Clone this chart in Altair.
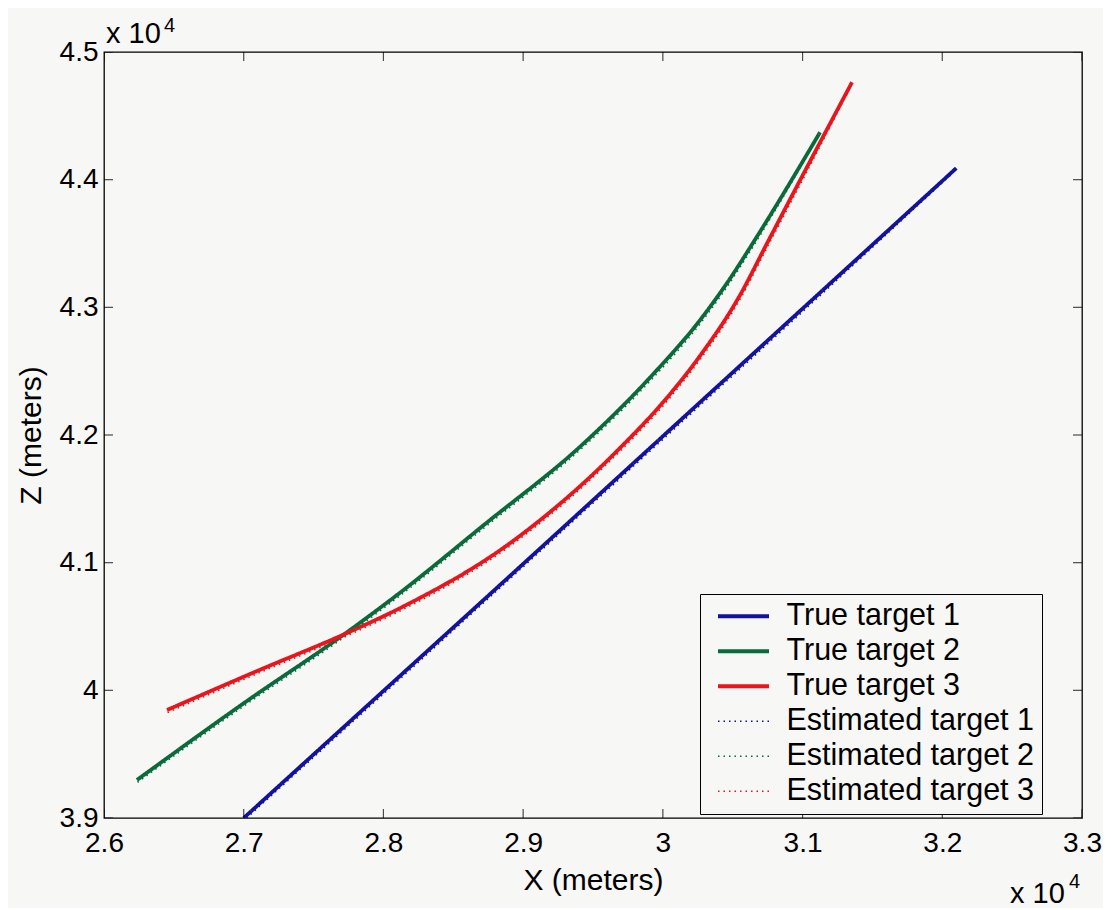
import altair as alt
import pandas as pd

# ---- data (meters) ----
series_names = ["True target 1", "True target 2", "True target 3",
                "Estimated target 1", "Estimated target 2", "Estimated target 3"]
series_colors = ["#12129c", "#0b6a3b", "#e8151d", "#12129c", "#0b6a3b", "#e8151d"]

true1_x = [27000, 28000, 29000, 30000, 31000, 32100]
true1_z = [39000, 39995, 40990, 41990, 42990, 44090]

true2_x = [26236, 26995, 27739, 28119, 28713, 29429, 29908, 30266, 30459, 30674, 31125]
true2_z = [39298, 39895, 40455, 40765, 41290, 41930, 42450, 42900, 43190, 43555, 44371]

true3_x = [26451, 27095, 27739, 28119, 28906, 29672, 30051, 30266, 30552, 30746, 30982, 31354]
true3_z = [39846, 40151, 40449, 40644, 41153, 41875, 42320, 42620, 43095, 43502, 43995, 44763]

est1_x = [27020, 28000, 29000, 30000, 31000, 32080]
est1_z = [39000, 39972, 40968, 41966, 42966, 44058]

est2_x = [26240, 26995, 27739, 28119, 28713, 29429, 29908, 30266, 30459, 30674, 31110]
est2_z = [39280, 39872, 40432, 40742, 41266, 41905, 42422, 42870, 43160, 43525, 44340]

est3_x = [26455, 27095, 27739, 28119, 28906, 29672, 30051, 30266, 30552, 30746, 30982, 31340]
est3_z = [39826, 40130, 40428, 40622, 41130, 41850, 42292, 42590, 43062, 43468, 43960, 44720]

x_ticks = [26000, 27000, 28000, 29000, 30000, 31000, 32000, 33000]
z_ticks = [39000, 40000, 41000, 42000, 43000, 44000, 45000]

rows = []
for name, xs, zs in [
    (series_names[0], true1_x, true1_z),
    (series_names[1], true2_x, true2_z),
    (series_names[2], true3_x, true3_z),
    (series_names[3], est1_x, est1_z),
    (series_names[4], est2_x, est2_z),
    (series_names[5], est3_x, est3_z),
]:
    for i, (x, z) in enumerate(zip(xs, zs)):
        rows.append({"series": name, "x": x, "z": z, "order": i,
                     "kind": "true" if name.startswith("True") else "est"})
df = pd.DataFrame(rows)

FONT = "Liberation Sans"
xscale = alt.Scale(domain=[26000, 33000], nice=False, zero=False)
zscale = alt.Scale(domain=[39000, 45000], nice=False, zero=False)

x_axis = alt.Axis(values=x_ticks, labelExpr="format(datum.value/10000, '.1~f')",
                  title="X (meters)", domain=False, ticks=False, grid=False,
                  labelPadding=11, titlePadding=8, labelFlush=False, labelOverlap=False)
z_axis = alt.Axis(values=z_ticks, labelExpr="format(datum.value/10000, '.1~f')",
                  title="Z (meters)", domain=False, ticks=False, grid=False,
                  labelPadding=6, titlePadding=13, labelFlush=False, labelOverlap=False)

color_enc = alt.Color("series:N", scale=alt.Scale(domain=series_names, range=series_colors),
                      legend=alt.Legend(title=None))
dash_enc = alt.StrokeDash("series:N",
                          scale=alt.Scale(domain=series_names,
                                          range=[[1, 0], [1, 0], [1, 0], [1.5, 4], [1.5, 4], [1.5, 4]]),
                          legend=alt.Legend(title=None))
width_enc = alt.StrokeWidth("series:N",
                            scale=alt.Scale(type="ordinal", domain=series_names,
                                            range=[3.8, 3.8, 3.8, 1.6, 1.6, 1.6]),
                            legend=alt.Legend(title=None))

base = alt.Chart(df).mark_line(clip=True, strokeCap="butt", interpolate="monotone").encode(
    x=alt.X("x:Q", scale=xscale, axis=x_axis),
    y=alt.Y("z:Q", scale=zscale, axis=z_axis),
    color=color_enc,
    strokeDash=dash_enc,
    strokeWidth=width_enc,
    order="order:Q",
)
true_layer = base.transform_filter(alt.datum.kind == "true")
est_layer = base.transform_filter(alt.datum.kind == "est")

# inward tick marks on all four sides (half of each tick is clipped away)
xt_df = pd.DataFrame({"x": x_ticks * 2, "z": [39000] * len(x_ticks) + [45000] * len(x_ticks)})
zt_df = pd.DataFrame({"x": [26000] * len(z_ticks) + [33000] * len(z_ticks), "z": z_ticks * 2})
xt = alt.Chart(xt_df).mark_tick(orient="vertical", size=18, thickness=1.2, color="black",
                                clip=True).encode(x=alt.X("x:Q", scale=xscale), y=alt.Y("z:Q", scale=zscale))
zt = alt.Chart(zt_df).mark_tick(orient="horizontal", size=18, thickness=1.2, color="black",
                                clip=True).encode(x=alt.X("x:Q", scale=xscale), y=alt.Y("z:Q", scale=zscale))

# exponent annotations
def exp_text(txt, size, px, py):
    return alt.Chart(pd.DataFrame({"t": [txt]})).mark_text(
        font=FONT, fontSize=size, align="left", baseline="alphabetic", color="black"
    ).encode(text="t:N", x=alt.value(px), y=alt.value(py))

ann = (exp_text("x 10", 29, 2, -9) + exp_text("4", 20, 60, -20)
       + exp_text("x 10", 29, 906, 851) + exp_text("4", 20, 965, 836))

chart = alt.layer(true_layer, est_layer, xt, zt, ann).properties(
    width=978, height=766,
    autosize=alt.AutoSizeParams(type="none"),
    padding={"left": 96, "top": 44, "right": 21, "bottom": 90},
    background="#f7f7f5",
).configure_view(
    stroke="black", strokeWidth=1.3
).configure_axis(
    labelFont=FONT, titleFont=FONT, labelFontSize=28, titleFontSize=30,
    labelColor="black", titleColor="black", titleFontWeight="normal",
).configure_legend(
    orient="none", legendX=596, legendY=542,
    strokeColor="black", fillColor="#f7f7f5", padding=7,
    labelFont=FONT, labelFontSize=30.5, labelColor="black", labelLimit=500,
    symbolType="M-0.5,0H5.5", symbolSize=289, labelOffset=49,
    rowPadding=4, symbolStrokeWidth=3.8,
)

chart.save("out.html", embed_options={"renderer": "svg", "actions": False})
